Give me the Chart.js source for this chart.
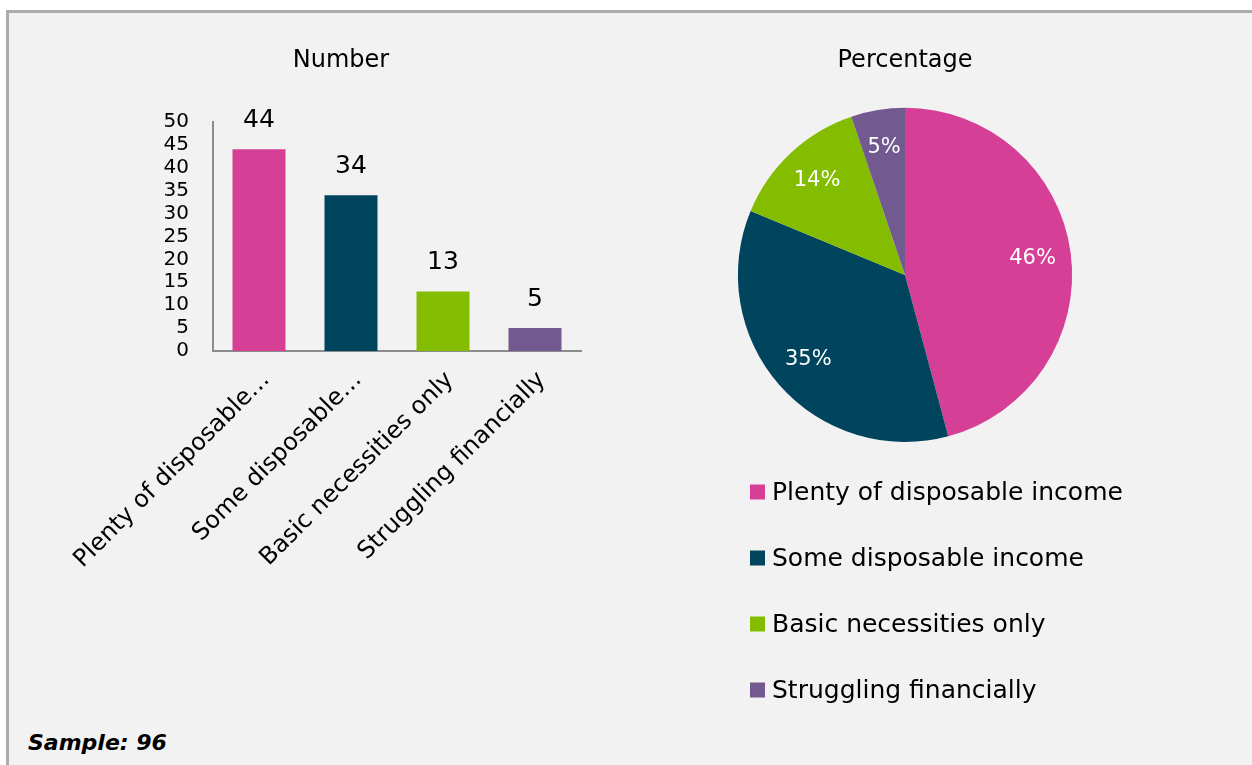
<!DOCTYPE html>
<html>
<head>
<meta charset="utf-8">
<script src="https://cdn.jsdelivr.net/npm/chart.js@4.4.1/dist/chart.umd.min.js"></script>
<style>
  html, body { margin: 0; padding: 0; background: #fff; width: 1252px; height: 765px; overflow: hidden; }
  #panel { position: absolute; left: 6px; top: 10px; width: 1300px; height: 800px; background: #f2f2f2;
           border-left: 3px solid #ababab; border-top: 3px solid #ababab; box-sizing: border-box; }
  canvas { position: absolute; top: 0; }
  #barCanvas { left: 0; }
  #pieCanvas { left: 700px; }
  #sample { position: absolute; left: 28px; top: 730px; font: italic bold 22px/26px 'DejaVu Sans', sans-serif; color: #000; }
</style>
</head>
<body>
<div id="panel"></div>
<canvas id="barCanvas" width="640" height="640"></canvas>
<canvas id="pieCanvas" width="450" height="765"></canvas>
<div id="sample">Sample: 96</div>
<script>
// Household finances: count per group and share of total
const categories = ['Plenty of disposable income', 'Some disposable income', 'Basic necessities only', 'Struggling financially'];
const tickLabels = ['Plenty of disposable…', 'Some disposable…', 'Basic necessities only', 'Struggling financially'];
const counts = [44, 34, 13, 5];
const colors = ['#d53f95', '#00445e', '#84bd00', '#725a91'];
const yMin = 0;
const yMax = 50;
const yStep = 5;

Chart.defaults.font.family = "'DejaVu Sans', sans-serif";
Chart.defaults.color = '#000';
Chart.defaults.animation = false;

// Value printed above each bar
const barValueLabels = {
  id: 'barValueLabels',
  afterDatasetsDraw(chart) {
    const ctx = chart.ctx;
    const values = chart.data.datasets[0].data;
    const meta = chart.getDatasetMeta(0);
    ctx.save();
    ctx.font = "25px 'DejaVu Sans', sans-serif";
    ctx.fillStyle = '#000';
    ctx.textAlign = 'center';
    ctx.textBaseline = 'middle';
    meta.data.forEach((bar, i) => {
      ctx.fillText(String(values[i]), bar.x, bar.y - 29);
    });
    ctx.restore();
  }
};

// Rounded percentage inside each slice
const pieValueLabels = {
  id: 'pieValueLabels',
  afterDatasetsDraw(chart) {
    const ctx = chart.ctx;
    const values = chart.data.datasets[0].data;
    const total = values.reduce((a, b) => a + b, 0);
    const meta = chart.getDatasetMeta(0);
    ctx.save();
    ctx.font = "21px 'DejaVu Sans', sans-serif";
    ctx.fillStyle = '#fff';
    ctx.textAlign = 'center';
    ctx.textBaseline = 'middle';
    meta.data.forEach((arc, i) => {
      const p = arc.getProps(['x', 'y', 'startAngle', 'endAngle', 'outerRadius']);
      const mid = (p.startAngle + p.endAngle) / 2;
      const r = p.outerRadius * 0.77;
      ctx.fillText(Math.round(values[i] / total * 100) + '%', p.x + Math.cos(mid) * r, p.y + Math.sin(mid) * r);
    });
    ctx.restore();
  }
};

// Single-column key under the pie, one row per category
const stackedKey = {
  id: 'stackedKey',
  afterDraw(chart) {
    const ctx = chart.ctx;
    const area = chart.chartArea;
    const labels = chart.data.labels;
    const fills = chart.data.datasets[0].backgroundColor;
    const box = 15, rowGap = 66, firstRow = area.bottom + 50, left = 50;
    ctx.save();
    ctx.font = "25px 'DejaVu Sans', sans-serif";
    ctx.textAlign = 'left';
    ctx.textBaseline = 'middle';
    labels.forEach((text, i) => {
      const cy = firstRow + i * rowGap;
      ctx.fillStyle = fills[i];
      ctx.fillRect(left, cy - box / 2, box, box);
      ctx.fillStyle = '#000';
      ctx.fillText(text, left + box + 7, cy + 1);
    });
    ctx.restore();
  }
};

new Chart(document.getElementById('barCanvas'), {
  type: 'bar',
  data: {
    labels: tickLabels,
    datasets: [{
      data: counts,
      backgroundColor: colors,
      borderWidth: 0,
      barPercentage: 0.576,
      categoryPercentage: 1
    }]
  },
  options: {
    responsive: false,
    devicePixelRatio: 1,
    events: [],
    layout: { autoPadding: false, padding: { left: 101, right: 59, top: 0, bottom: 9 } },
    plugins: {
      legend: { display: false },
      tooltip: { enabled: false },
      title: {
        display: true,
        text: 'Number',
        color: '#000',
        font: { size: 24, weight: 'normal' },
        padding: { top: 46, bottom: 47 }
      }
    },
    scales: {
      x: {
        grid: { display: false, drawTicks: false },
        border: { display: true, color: '#8c8c8c', width: 2 },
        ticks: {
          autoSkip: false,
          minRotation: 45,
          maxRotation: 45,
          padding: 15,
          labelOffset: 7,
          color: '#000',
          font: { size: 24 }
        },
        afterFit(scale) { scale.height = 280; }
      },
      y: {
        min: yMin,
        max: yMax,
        grid: { display: false, drawTicks: false },
        border: { display: true, color: '#8c8c8c', width: 2 },
        ticks: { stepSize: yStep, autoSkip: false, padding: 24, color: '#000', font: { size: 20 } },
        afterFit(scale) { scale.width = 112; }
      }
    }
  },
  plugins: [barValueLabels]
});

new Chart(document.getElementById('pieCanvas'), {
  type: 'pie',
  data: {
    labels: categories,
    datasets: [{
      data: counts,
      backgroundColor: colors,
      borderWidth: 0
    }]
  },
  options: {
    responsive: false,
    devicePixelRatio: 1,
    events: [],
    layout: { autoPadding: false, padding: { left: 0, right: 40, top: 0, bottom: 323 } },
    plugins: {
      tooltip: { enabled: false },
      legend: { display: false },
      title: {
        display: true,
        text: 'Percentage',
        color: '#000',
        font: { size: 24, weight: 'normal' },
        padding: { top: 46, bottom: 33 }
      }
    }
  },
  plugins: [pieValueLabels, stackedKey]
});
</script>
</body>
</html>
